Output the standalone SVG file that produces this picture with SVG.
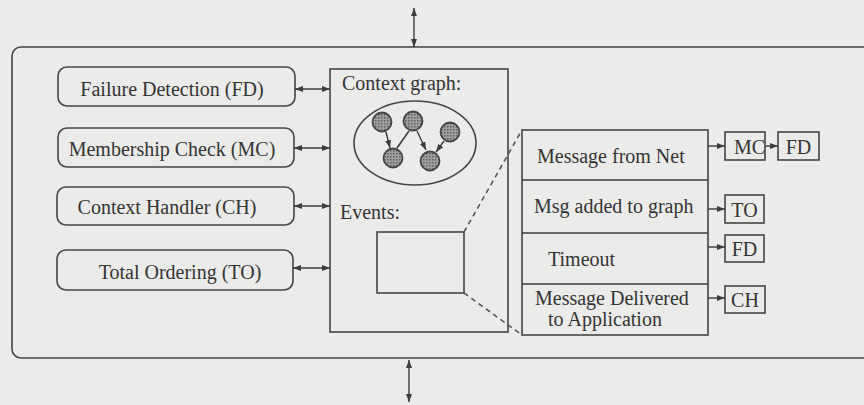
<svg xmlns="http://www.w3.org/2000/svg" width="864" height="405" viewBox="0 0 864 405">
<defs>
<marker id="ah" viewBox="0 0 8 6" refX="8" refY="3" markerWidth="8" markerHeight="6" markerUnits="userSpaceOnUse" orient="auto-start-reverse">
<path d="M0,0 L8,3 L0,6 z" fill="#3c3c3c"/>
</marker>
<pattern id="dots" width="3" height="3" patternUnits="userSpaceOnUse">
<rect width="3" height="3" fill="#a0a0a0"/>
<rect width="1.5" height="1.5" fill="#5e5e5e"/>
</pattern>
<style>
.ln{fill:none;stroke:#3c3c3c;stroke-width:1.6}
.bx{fill:none;stroke:#444;stroke-width:1.6}
.t{font-family:"Liberation Serif","Times New Roman",serif;font-size:20px;fill:#333}
.m{text-anchor:middle}
.nd{fill:url(#dots);stroke:#444;stroke-width:1.8}
.ar{fill:none;stroke:#3c3c3c;stroke-width:1.4;marker-end:url(#ah)}
.ar2{fill:none;stroke:#3c3c3c;stroke-width:1.4;marker-end:url(#ah);marker-start:url(#ah)}
.ds{fill:none;stroke:#555;stroke-width:1.6;stroke-dasharray:5,4}
</style>
</defs>
<rect width="864" height="405" fill="#ebebe9"/>

<g id="outer">
<rect x="12" y="47" width="880" height="311" rx="9" class="bx"/>
</g>

<g id="fd">
<rect x="58" y="67" width="237" height="39" rx="9" class="bx"/>
<text x="172" y="96" class="t m">Failure Detection (FD)</text>
</g>
<g id="mc">
<rect x="58" y="128" width="236" height="39" rx="9" class="bx"/>
<text x="172" y="156" class="t m">Membership Check (MC)</text>
</g>
<g id="ch">
<rect x="57" y="187" width="237" height="38" rx="9" class="bx"/>
<text x="167" y="214" class="t m">Context Handler (CH)</text>
</g>
<g id="to">
<rect x="57" y="250" width="236" height="40" rx="9" class="bx"/>
<text x="180" y="279" class="t m">Total Ordering (TO)</text>
</g>

<g id="context">
<rect x="330" y="69" width="178" height="263" class="bx"/>
<text x="342" y="90" class="t">Context graph:</text>
<ellipse cx="415" cy="143" rx="61" ry="42" class="bx"/>
<text x="340" y="219" class="t">Events:</text>
<rect x="377" y="232" width="87" height="61" class="bx"/>
</g>

<g id="graph">
<line x1="386" y1="132" x2="390" y2="148" class="ar"/>
<line x1="409" y1="131" x2="397" y2="148" class="ln"/>
<line x1="417" y1="131" x2="426" y2="150" class="ar"/>
<line x1="444" y1="141" x2="436" y2="152" class="ar"/>
<circle cx="382" cy="122" r="9.5" class="nd"/>
<circle cx="413" cy="121" r="9.5" class="nd"/>
<circle cx="450" cy="132" r="9.5" class="nd"/>
<circle cx="393" cy="158" r="9.5" class="nd"/>
<circle cx="430" cy="161" r="9.5" class="nd"/>
</g>

<g id="events-table">
<rect x="522" y="130" width="186" height="205" class="bx"/>
<line x1="522" y1="180" x2="708" y2="180" class="ln"/>
<line x1="522" y1="233" x2="708" y2="233" class="ln"/>
<line x1="522" y1="284" x2="708" y2="284" class="ln"/>
<text x="537" y="163" class="t">Message from Net</text>
<text x="534" y="213" class="t">Msg added to graph</text>
<text x="548" y="266" class="t">Timeout</text>
<text x="535" y="305" class="t">Message Delivered</text>
<text x="548" y="326" class="t">to Application</text>
</g>

<g id="r-mc">
<rect x="725" y="132" width="40" height="28" class="bx"/>
<text x="734" y="154" class="t">MC</text>
</g>
<g id="r-fd1">
<rect x="778" y="132" width="41" height="28" class="bx"/>
<text x="798.5" y="154" class="t m">FD</text>
</g>
<g id="r-to">
<rect x="725" y="195" width="39" height="28" class="bx"/>
<text x="744.5" y="217" class="t m">TO</text>
</g>
<g id="r-fd2">
<rect x="725" y="235" width="39" height="27" class="bx"/>
<text x="744.5" y="256" class="t m">FD</text>
</g>
<g id="r-ch">
<rect x="725" y="286" width="40" height="27" class="bx"/>
<text x="745" y="307" class="t m">CH</text>
</g>

<g id="connectors">
<line x1="414" y1="8" x2="414" y2="47" class="ar2"/>
<line x1="409" y1="360" x2="409" y2="402" class="ar2"/>
<line x1="295" y1="89" x2="330" y2="89" class="ar2"/>
<line x1="294" y1="148" x2="330" y2="148" class="ar2"/>
<line x1="294" y1="206" x2="330" y2="206" class="ar2"/>
<line x1="293" y1="268" x2="330" y2="268" class="ar2"/>
<line x1="708" y1="146" x2="725" y2="146" class="ar"/>
<line x1="765" y1="146" x2="778" y2="146" class="ar"/>
<line x1="708" y1="209" x2="725" y2="209" class="ar"/>
<line x1="708" y1="247" x2="725" y2="247" class="ar"/>
<line x1="708" y1="298" x2="725" y2="298" class="ar"/>
<line x1="464" y1="232" x2="522" y2="130" class="ds"/>
<line x1="464" y1="293" x2="522" y2="335" class="ds"/>
</g>
</svg>
